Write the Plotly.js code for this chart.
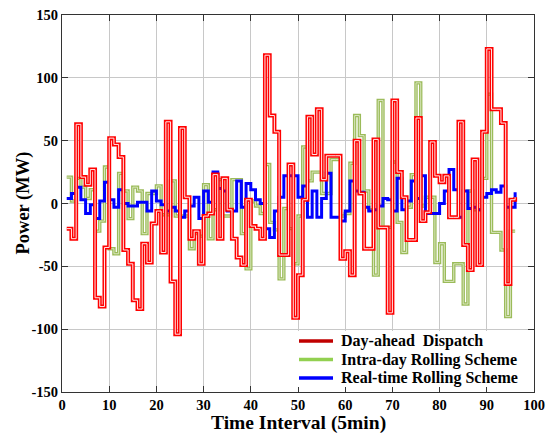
<!DOCTYPE html>
<html>
<head>
<meta charset="utf-8">
<script src="https://cdn.plot.ly/plotly-3.0.1.min.js"></script>
<style>html,body{margin:0;padding:0;background:#fff}#chart{width:558px;height:434px}</style>
</head>
<body>
<div id="chart"></div>
<script>
// Time interval index (5 min steps)
var intervals = [];
for (var i = 1; i <= 96; i++) intervals.push(i);

var dayAhead = [-20,-28,63,21,15,27,-75,-82,-35,52,47,37,-37,-48,-77,-84,-32,-47,-16,-6,
  -39,65,-62,-104,60,5,-28,-22,-48,-10,-8,23,-28,20,-5,-28,-43,-49,3,-18,
  -20,-28,118,70,57,-41,-41,31,-91,-57,3,69,39,75,19,38,38,38,-44,-38,
  -57,50,8,-36,-36,51,-19,-19,-87,82,25,5,-29,-29,68,-14,-7,49,22,17,
  22,-11,-11,65,-33,-53,35,-49,57,123,75,75,64,-64,3,5];

var intraDay = [21,2,20,13,4,11,-22,-14,29,-36,-40,24,10,-12,13,10,-24,8,8,14,
  -9,-9,18,-10,-10,-10,-36,-24,-26,15,-28,-5,19,-10,-10,19,19,-24,-52,2,
  -2,-8,31,-15,-21,-60,-4,-20,-48,-10,45,18,25,25,8,8,35,35,-10,-8,
  32,70,54,10,-5,-57,82,-19,-19,33,-15,-39,-3,23,96,-2,5,5,-47,-32,
  -62,-62,-48,-48,-80,10,-5,-5,20,87,-23,-23,-37,-90,-22,-22];

var realTime = [4,8,13,3,-8,-1,-12,2,17,3,-3,11,0,-2,-2,1,1,-6,10,2,
  -1,-6,-3,-6,-11,-6,-2,5,-12,10,1,25,12,10,-6,-6,18,-3,16,11,
  3,0,-20,-27,-6,5,22,22,22,5,14,-11,10,-11,4,24,-11,-11,-14,-6,
  18,10,9,-3,-6,-5,-2,4,3,-6,20,-5,2,18,4,22,-8,-8,-8,0,
  10,27,11,-11,10,-4,-3,-5,5,8,11,9,14,-3,-3,9];

var xTicks = [0,10,20,30,40,50,60,70,80,90,100];
var yTicks = [-150,-100,-50,0,50,100,150];
var yTickText = ['-150','-100','-50','0','50','100','150'];
var seriesNames = ['Day-ahead  Dispatch','Intra-day Rolling Scheme','Real-time Rolling Scheme'];

var FONT = 'Liberation Serif, Times New Roman, serif';

var traces = [
  {x: intervals, y: intraDay, type:'scatter', mode:'lines', line:{shape:'hv', color:'#9bbb59', width:3.4}, hoverinfo:'skip', showlegend:false},
  {x: intervals, y: intraDay, type:'scatter', mode:'lines', line:{shape:'hv', color:'#dfeac8', width:0.9}, hoverinfo:'skip', showlegend:false},
  {x: intervals, y: realTime, type:'scatter', mode:'lines', line:{shape:'hv', color:'#0000ff', width:3}, showlegend:false},
  {x: intervals, y: dayAhead, type:'scatter', mode:'lines', line:{shape:'hv', color:'#ff0000', width:4}, showlegend:false},
  {x: intervals, y: dayAhead, type:'scatter', mode:'lines', line:{shape:'hv', color:'#ffe8e8', width:1}, hoverinfo:'skip', showlegend:false}
];

// manual legend geometry in pixel space, converted to paper coords
var L = 62, T = 15, W = 472, H = 377;
function px(x){ return (x - L) / W; }
function py(y){ return (T + H - y) / H; }
var legendColors = ['#c00000','#92d050','#0000ff'];
var legendY = [341, 359.5, 378];
var shapes = [
  {type:'rect', xref:'paper', yref:'paper', x0:px(293), x1:px(533), y0:py(387), y1:py(331), fillcolor:'#ffffff', line:{width:0}, layer:'above'}
];
var annotations = [];
for (var k = 0; k < 3; k++) {
  shapes.push({type:'line', xref:'paper', yref:'paper', x0:px(299), x1:px(333), y0:py(legendY[k]), y1:py(legendY[k]), line:{color:legendColors[k], width:3.5}, layer:'above'});
  annotations.push({xref:'paper', yref:'paper', x:px(339), y:py(legendY[k]), xanchor:'left', yanchor:'middle', showarrow:false, text:seriesNames[k], font:{family:FONT, size:16, color:'#000', weight:'bold'}});
}
annotations.push({xref:'paper', yref:'paper', x:0.5, y:py(423), xanchor:'center', yanchor:'middle', showarrow:false, text:'Time Interval (5min)', font:{family:FONT, size:19.5, color:'#000', weight:'bold'}});
annotations.push({xref:'paper', yref:'paper', x:px(23), y:0.5, xanchor:'center', yanchor:'middle', showarrow:false, textangle:-90, text:'Power (MW)', font:{family:FONT, size:18.5, color:'#000', weight:'bold'}});

var layout = {
  width:558, height:434,
  margin:{l:62, r:24, t:15, b:42},
  paper_bgcolor:'#ffffff', plot_bgcolor:'#ffffff',
  showlegend:false,
  xaxis:{range:[0,100], tickvals:xTicks, ticks:'inside', ticklen:6, tickcolor:'#333', showline:true, linecolor:'#333', linewidth:1, mirror:'ticks',
    showgrid:true, gridcolor:'#c8c8c8', gridwidth:1, zeroline:false, fixedrange:true,
    tickfont:{family:FONT, size:14.5, color:'#000', weight:'bold'}},
  yaxis:{range:[-150,150], tickvals:yTicks, ticktext:yTickText, ticks:'inside', ticklen:6, tickcolor:'#333', showline:true, linecolor:'#333', linewidth:1, mirror:'ticks',
    showgrid:true, gridcolor:'#c8c8c8', gridwidth:1, zeroline:false, fixedrange:true,
    tickfont:{family:FONT, size:14.5, color:'#000', weight:'bold'}},
  shapes:shapes,
  annotations:annotations
};

Plotly.newPlot('chart', traces, layout, {displayModeBar:false, staticPlot:true});
</script>
</body>
</html>
